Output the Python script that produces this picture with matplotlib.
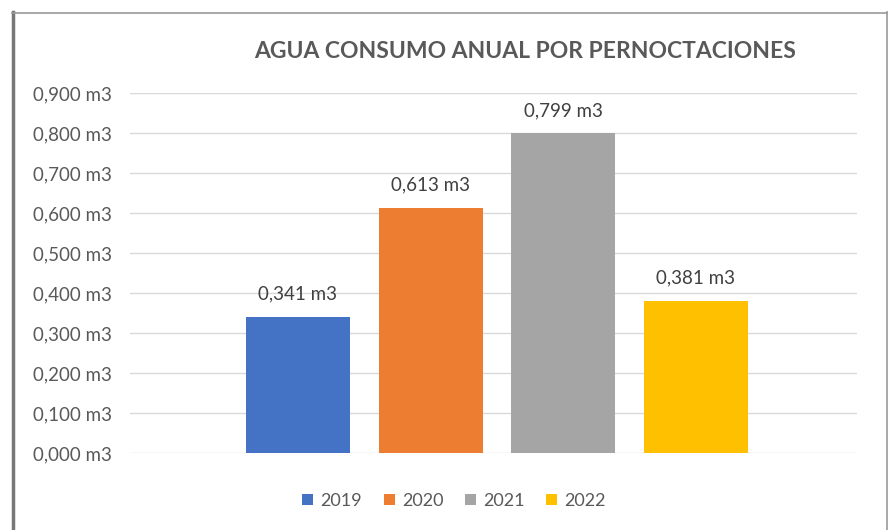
import matplotlib.pyplot as plt
from matplotlib.lines import Line2D
from matplotlib.ticker import FuncFormatter

# consumo de agua por pernoctación (m3)
years = ['2019', '2020', '2021', '2022']
consumo = [0.341, 0.613, 0.799, 0.381]
colors = ['#4472C4', '#ED7D31', '#A5A5A5', '#FFC000']
yticks = [0.0, 0.1, 0.2, 0.3, 0.4, 0.5, 0.6, 0.7, 0.8, 0.9]

plt.rcParams['font.family'] = ['Lato', 'DejaVu Sans']

W, H = 888, 530
fig = plt.figure(figsize=(W / 100, H / 100), dpi=100)
fig.patch.set_facecolor('white')

# area de trazado en pixeles
left, right, top, bottom = 130, 857, 93, 453
ax = fig.add_axes([left / W, 1 - bottom / H, (right - left) / W, (bottom - top) / H])

step = 132.5
pos = list(range(len(years)))
bars = ax.bar(pos, consumo, width=104 / step, color=colors, label=years, zorder=3)

ax.set_xlim((left - 298) / step, (right - 298) / step)
ax.set_ylim(0, 0.9)
ax.set_yticks(yticks)
ax.yaxis.set_major_formatter(FuncFormatter(lambda v, p: f'{v:.3f}'.replace('.', ',') + ' m3'))
ax.set_xticks([])
ax.tick_params(axis='y', length=0, pad=13, labelsize=13.5, labelcolor='#595959')
ax.grid(axis='y', color='#D9D9D9', linewidth=1, zorder=0)
for s in ax.spines.values():
    s.set_visible(False)

for b, v in zip(bars, consumo):
    ax.annotate(f'{v:.3f}'.replace('.', ',') + ' m3',
                (b.get_x() + b.get_width() / 2, v), xytext=(0, 16.5),
                textcoords='offset points', ha='center', va='center',
                fontsize=13.5, color='#404040')

fig.text(525.5 / W, 1 - 52 / H, 'AGUA CONSUMO ANUAL POR PERNOCTACIONES',
         ha='center', va='center', fontsize=16.5, fontweight='bold', color='#595959')

fig.legend(handles=bars, labels=years, loc='center', bbox_to_anchor=(454 / W, 1 - 501 / H),
           ncol=4, frameon=False, fontsize=13, handlelength=0.6, handleheight=0.6,
           handletextpad=0.4, columnspacing=1.2, labelcolor='#595959')

# marco del grafico
fig.add_artist(Line2D([12.5 / W, 12.5 / W], [0, 1 - 12 / H], color='#777777', linewidth=2.5))
fig.add_artist(Line2D([12 / W, 886.5 / W], [1 - 12.5 / H, 1 - 12.5 / H], color='#999999', linewidth=1.2))
fig.add_artist(Line2D([886.5 / W, 886.5 / W], [0, 1 - 12 / H], color='#999999', linewidth=1.2))

fig.savefig('out.png', dpi=100)
